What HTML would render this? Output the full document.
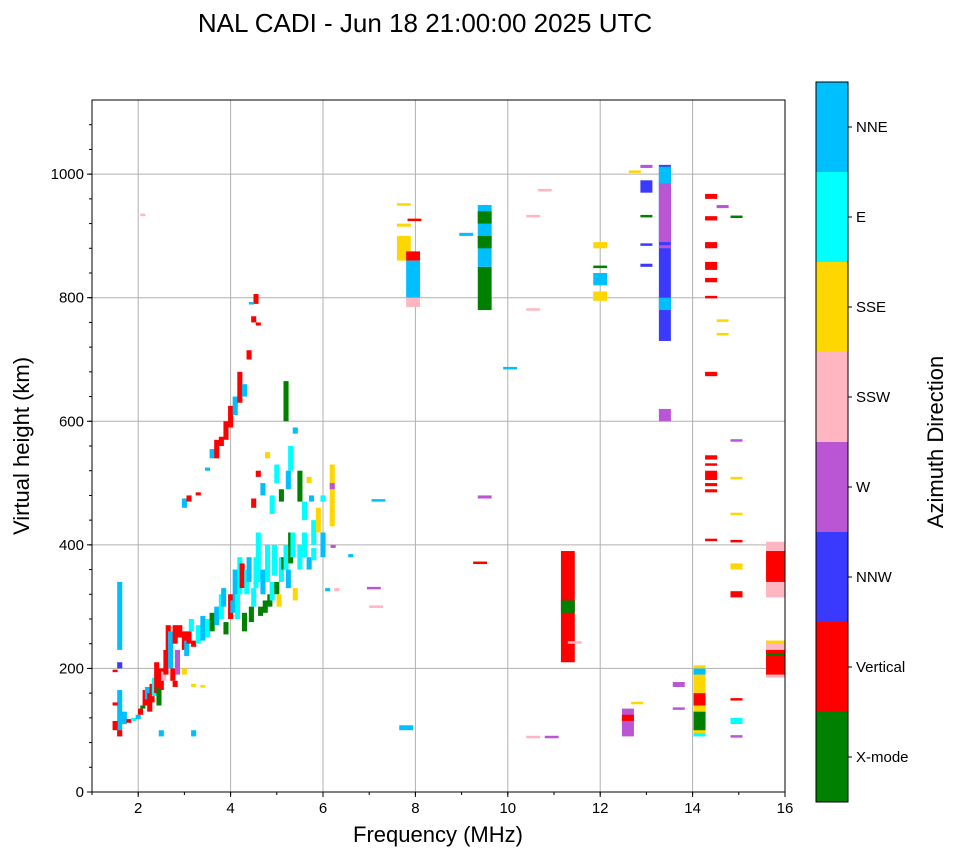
<!DOCTYPE html>
<html><head><meta charset="utf-8"><style>
body{margin:0;background:#fff;font-family:"Liberation Sans",sans-serif;}
svg text{font-family:"Liberation Sans",sans-serif;}
</style></head><body>
<svg id="chart" width="958" height="857">
<text x="425" y="32" font-size="26" text-anchor="middle">NAL CADI - Jun 18 21:00:00 2025 UTC</text>
<g id="grid"></g>
<g id="marks"></g>
<g id="axes"></g>
<text x="438" y="842" font-size="22" text-anchor="middle">Frequency (MHz)</text>
<text transform="translate(29,446) rotate(-90)" font-size="22" text-anchor="middle">Virtual height (km)</text>
<g id="cbar"></g>
<text transform="translate(943,442) rotate(-90)" font-size="22" text-anchor="middle">Azimuth Direction</text>
</svg>
<script>
const directions=["X-mode","Vertical","NNW","W","SSW","SSE","E","NNE"];
const dirColors=["#008000","#ff0000","#3a3aff","#ba55d3","#ffb6c1","#ffd700","#00ffff","#00bfff"];
const xTicks=[2,4,6,8,10,12,14,16];
const yTicks=[0,200,400,600,800,1000];
// echoes: frequency (MHz), low height, high height (km), direction index
const freq=[1.6,1.6,1.6,1.6,1.5,1.5,1.5,1.7,1.8,1.9,2.0,2.05,2.1,2.15,2.2,2.25,2.3,2.35,2.4,2.45,2.5,2.55,2.6,2.65,2.7,2.75,2.8,2.85,2.9,3.0,3.05,3.1,3.15,3.2,3.3,3.4,3.5,3.6,3.7,3.8,3.85,3.9,4.0,4.05,4.1,4.15,4.2,4.25,4.3,4.35,4.4,4.45,4.5,4.55,4.6,4.65,4.7,4.75,4.8,4.85,4.9,4.95,5.0,5.05,5.1,5.15,5.2,5.25,5.3,5.35,5.4,5.5,5.6,5.7,5.8,
3.0,3.1,3.3,3.5,3.6,3.7,3.8,3.9,4.0,4.1,4.2,4.3,4.4,4.5,4.55,4.45,4.6,
4.5,4.6,4.7,4.8,4.9,5.0,5.1,5.2,5.25,5.3,5.4,5.5,5.6,5.7,5.75,5.8,5.9,6.0,6.2,6.2,6.22,6.0,6.1,6.3,6.6,
2.8,3.0,3.2,3.4,2.5,3.2,2.1,7.1,7.15,7.2,
7.8,7.75,7.75,7.75,7.95,7.95,7.95,7.98,9.1,9.5,9.5,9.5,9.5,9.5,9.4,
10.05,10.55,10.55,10.8,10.55,10.95,11.3,11.3,11.45,
12.0,12.0,12.0,12.0,12.6,12.6,12.8,12.75,
13.0,13.0,13.0,13.0,13.0,13.4,13.4,13.4,13.4,13.4,13.4,13.7,13.7,
14.15,14.15,14.15,14.15,14.15,14.4,14.4,14.4,14.4,14.4,14.4,14.4,14.4,14.4,
14.65,14.65,14.65,14.95,14.95,14.95,14.95,14.95,14.95,14.95,14.95,14.95,14.95,
15.8,15.8,15.8,15.8,15.8,15.8,15.8,15.8,15.8,
14.4,14.4,14.4,14.4];
const hLow=[230,200,90,90,100,140,195,110,112,115,118,125,135,140,150,130,145,155,160,140,165,180,190,220,200,180,240,190,250,230,220,240,260,235,240,245,250,260,270,280,300,255,280,290,300,280,320,330,260,320,340,275,300,330,340,285,320,290,340,300,310,350,320,300,340,360,360,330,370,380,310,360,380,360,375,
460,470,480,520,540,540,560,570,590,610,630,640,700,760,790,790,755,
460,510,480,540,450,500,470,600,490,520,580,470,440,500,470,400,420,470,430,490,395,380,325,325,380,
170,190,170,170,90,90,932,330,300,472,
100,950,915,860,860,800,785,925,900,780,850,880,920,475,370,
685,932,780,974,89,89,210,290,242,
795,880,850,820,90,115,143,1003,
1010,970,850,885,932,730,890,985,600,780,880,170,135,
90,100,140,190,90,960,925,880,845,825,800,673,485,407,
945,762,740,930,568,508,448,405,360,315,150,110,89,
315,340,350,370,185,190,205,220,240,
495,505,528,538];
const hHigh=[340,210,165,100,115,145,198,130,118,120,125,135,140,165,170,160,175,185,210,170,200,195,230,270,260,200,270,230,270,260,245,260,280,245,270,285,280,290,300,320,330,275,320,310,360,320,380,370,290,360,380,300,330,380,420,300,360,310,400,320,340,400,340,320,380,380,400,360,420,420,330,400,420,380,395,
475,480,485,525,555,570,575,600,625,640,680,660,715,770,806,793,760,
475,520,500,550,480,530,490,665,520,560,590,520,470,510,480,440,460,480,530,500,400,420,330,330,385,
180,200,175,173,100,100,936,332,302,474,
108,953,920,900,875,860,800,928,905,850,950,900,940,480,373,
688,934,783,976,91,91,390,310,244,
810,890,852,840,135,125,146,1006,
1015,990,855,888,934,1015,990,1012,620,800,885,178,137,
205,130,160,200,95,968,932,890,858,832,803,680,490,410,
950,765,743,933,571,510,452,408,370,325,152,120,92,
405,390,355,375,245,230,210,225,245,
500,520,532,545];
const dirIdx=[7,2,7,1,1,1,1,7,1,6,7,1,0,1,7,1,1,6,1,0,1,4,1,1,7,1,1,3,1,1,7,1,6,1,6,7,6,0,7,6,7,0,1,7,7,6,6,1,0,6,7,0,6,6,6,0,7,0,6,0,6,6,0,5,6,0,6,7,0,6,5,6,6,7,6,
7,1,1,7,7,1,1,1,1,7,1,7,1,1,1,7,1,
1,1,7,5,6,6,0,0,7,6,7,0,6,5,7,6,5,6,5,3,3,7,7,4,7,
1,5,5,5,7,7,4,3,4,7,
7,5,5,5,1,7,4,1,7,0,7,0,0,3,1,
7,4,4,4,4,3,1,0,4,
5,5,0,7,3,1,5,5,
3,2,2,2,0,2,3,7,3,7,3,3,3,
5,0,1,7,6,1,1,1,1,1,1,1,1,1,
3,5,5,0,3,5,5,1,5,1,1,6,3,
4,1,1,1,4,1,1,0,5,
1,1,1,1];
const NS="http://www.w3.org/2000/svg";
const L=92,R=785,T=100,B=792;
const xS=f=>L+(f-1)*(R-L)/15;
const yS=h=>B-h*(B-T)/1120;
function mk(tag,attrs,parent){const e=document.createElementNS(NS,tag);for(const k in attrs)e.setAttribute(k,attrs[k]);parent.appendChild(e);return e;}
const grid=document.getElementById('grid'),axes=document.getElementById('axes'),marks=document.getElementById('marks'),cbar=document.getElementById('cbar');
xTicks.forEach(t=>{const x=xS(t);
 if(t<16){const g=mk('line',{x1:x,x2:x,y1:T,y2:B,stroke:'#b0b0b0','stroke-width':1},grid);}
 mk('line',{x1:x,x2:x,y1:B,y2:B+5,stroke:'#000'},axes);
 const tx=mk('text',{x:x,y:B+21,'font-size':15,'text-anchor':'middle'},axes);tx.textContent=t;
 
 });
for(let f=1;f<=16;f++){const x=xS(f);mk('line',{x1:x,x2:x,y1:B,y2:B+3,stroke:'#000'},axes);}
yTicks.forEach(t=>{const y=yS(t);
 if(t>0){const g=mk('line',{x1:L,x2:R,y1:y,y2:y,stroke:'#b0b0b0','stroke-width':1},grid);}
 mk('line',{x1:L-5,x2:L,y1:y,y2:y,stroke:'#000'},axes);
 const tx=mk('text',{x:L-8,y:y+5,'font-size':15,'text-anchor':'end'},axes);tx.textContent=t;
 
 });
for(let h=0;h<=1100;h+=40){const y=yS(h);mk('line',{x1:L-3,x2:L,y1:y,y2:y,stroke:'#000'},axes);}
mk('rect',{x:L,y:T,width:R-L,height:B-T,fill:'none',stroke:'#000','stroke-width':1},axes);
for(let i=0;i<freq.length;i++){
 const w=freq[i]<7?0.11:(freq[i]>15.5?0.42:(freq[i]>12.3?0.26:0.3));
 const x=xS(freq[i]-w/2),y1=yS(hHigh[i]),y2=yS(hLow[i]);
 const r=mk('rect',{x:x,y:y1,width:xS(freq[i]+w/2)-x,height:Math.max(2.5,y2-y1),fill:dirColors[dirIdx[i]]},marks);
 
 
}
const cx=816,cw=32,cy=82,ch=720,seg=ch/directions.length;
directions.forEach((d,i)=>{const y=cy+ch-(i+1)*seg;
 const r=mk('rect',{x:cx,y:y,width:cw,height:seg,fill:dirColors[i]},cbar);
 
 
 mk('line',{x1:cx+cw,x2:cx+cw+4,y1:y+seg/2,y2:y+seg/2,stroke:'#000'},cbar);
 const tx=mk('text',{x:cx+cw+8,y:y+seg/2+5,'font-size':15},cbar);tx.textContent=d;
 
 });
mk('rect',{x:cx,y:cy,width:cw,height:ch,fill:'none',stroke:'#000'},cbar);
</script>
</body></html>
